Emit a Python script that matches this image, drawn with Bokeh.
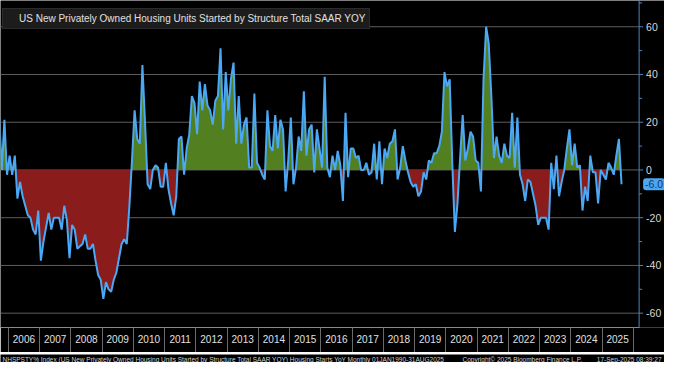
import numpy as np
import pandas as pd
from bokeh.plotting import figure
from bokeh.layouts import column
from bokeh.models import FixedTicker, Range1d, Legend, LegendItem, Span
from bokeh.core.properties import value
from bokeh.embed import file_html
from bokeh.resources import INLINE

# ---------------- data (monthly YoY %, Sep 2005 .. Aug 2025) ----------------
start_month = "2005-09"
yoy_2005 = [22, 0, 21, -2]
yoy_2006 = [6, -2, 6, -12, -5, -11, -15, -19, -20, -25, -27, -17]
yoy_2007 = [-38, -30, -24, -18, -25, -20, -20, -20, -25, -15, -21, -37]
yoy_2008 = [-23, -25, -33, -32, -31, -27, -33, -33, -31, -38, -44, -46]
yoy_2009 = [-54, -47, -50, -51, -46, -43, -37, -31, -29, -31, -15, 4]
yoy_2010 = [25, 13, 11, 44, 20, -6, -8, 0, 2, 1, -7, -7]
yoy_2011 = [3, -8, -14, -19, -11, 13, 14, -2, 9, 15, 31, 28]
yoy_2012 = [15, 37, 25, 36, 27, 25, 19, 29, 31, 51, 17, 41]
yoy_2013 = [25, 38, 45, 11, 31, 11, 19, 22, 1, 1, 32, 3]
yoy_2014 = [1, -2, -4, 25, 10, 8, 23, 9, 21, 17, -9, 4]
yoy_2015 = [22, -6, 1, 14, 8, 33, 6, 17, 19, -1, 17, 9]
yoy_2016 = [1, 39, 1, -3, 6, 0, 8, 2, -13, 24, -3, 9]
yoy_2017 = [9, 5, 6, 0, 0, 3, -2, -1, 11, -4, 12, -6]
yoy_2018 = [9, 5, 11, 12, 17, -4, 1, 10, 4, -1, -5, -7]
yoy_2019 = [-6, -11, -9, -1, -4, 4, 3, 7, 7, 10, 16, 41]
yoy_2020 = [35, 38, 3, -26, -14, 5, 23, 4, 9, 16, 14, 4]
yoy_2021 = [3, -9, 38, 60, 53, 31, 5, 14, 6, 3, 11, 6]
yoy_2022 = [5, 24, 1, 22, -2, -6, -13, -4, -5, -10, -15, -23]
yoy_2023 = [-20, -20, -20, -25, 3, -8, 6, -11, -5, 0, 9, 17]
yoy_2024 = [2, 11, 1, 2, -17, -7, -13, 6, -1, -1, -14, 0]
yoy_2025 = [-2, -4, 3, 1, -2, 6, 13, -6.0]

yoy = (yoy_2005 + yoy_2006 + yoy_2007 + yoy_2008 + yoy_2009 + yoy_2010 + yoy_2011
       + yoy_2012 + yoy_2013 + yoy_2014 + yoy_2015 + yoy_2016 + yoy_2017 + yoy_2018
       + yoy_2019 + yoy_2020 + yoy_2021 + yoy_2022 + yoy_2023 + yoy_2024 + yoy_2025)

years = list(range(2006, 2026))
year_labels = [str(y) for y in years]
y_ticks = [-60, -40, -20, 0, 20, 40, 60]
y_tick_labels = ["-60", "-40", "-20", "0", "20", "40", "60"]
y_minor = [-50, -30, -10, 10, 30, 50, 70]
last_value_label = "-6.0"
legend_label = "US New Privately Owned Housing Units Started by Structure Total SAAR YOY"
footer_left = ("NHSPSTY% Index (US New Privately Owned Housing Units Started by Structure "
               "Total SAAR YOY) Housing Starts YoY  Monthly 01JAN1990-31AUG2025")
footer_mid = "Copyright\u00a9 2025 Bloomberg Finance L.P."
footer_right = "17-Sep-2025 08:39:27"

# ---------------- styling ----------------
FONT = "Liberation Sans"
LINE = "#4aa8f5"
GREEN = "#527f1f"
RED = "#8b1c1c"
GRID = "#5e5e5e"
AXIS_BLUE = "#4f82c4"
TXT = "#e0e0e0"
X_START, X_END = 2005.75, 2027.0
AXIS_X = 2026.1875          # position of the value axis line (time units)

months = pd.period_range(start_month, periods=len(yoy), freq="M")
xv = (months.year + (months.month - 0.5) / 12.0).to_numpy(dtype=float)
yv = np.array(yoy, dtype=float)


def split_fill(xs, ys):
    fx, fy = [], []
    for i in range(len(ys)):
        if i > 0 and ys[i - 1] * ys[i] < 0:
            f = ys[i - 1] / (ys[i - 1] - ys[i])
            fx.append(xs[i - 1] + f * (xs[i] - xs[i - 1]))
            fy.append(0.0)
        fx.append(xs[i])
        fy.append(ys[i])
    return np.array(fx), np.array(fy)


fx, fy = split_fill(xv, yv)

p = figure(width=664, height=352,
           x_range=Range1d(X_START, X_END), y_range=Range1d(-66, 71),
           y_axis_location=None, output_backend="svg", toolbar_location=None,
           background_fill_color="black", border_fill_color="black",
           min_border_left=0, min_border_top=0, min_border_right=0, min_border_bottom=25)
p.outline_line_color = None
p.xgrid.visible = False
p.ygrid.visible = False

# horizontal grid lines up to the value axis
n = len(y_ticks)
p.segment(x0=[X_START] * n, y0=y_ticks, x1=[AXIS_X] * n, y1=y_ticks,
          line_color=GRID, line_width=1)

# fills and line
p.varea(x=fx, y1=0, y2=np.maximum(fy, 0), fill_color=GREEN, fill_alpha=1)
p.varea(x=fx, y1=0, y2=np.minimum(fy, 0), fill_color=RED, fill_alpha=1)
p.line(xv, yv, line_color=LINE, line_width=2)

# value axis on the right (drawn in the frame)
p.add_layout(Span(location=AXIS_X, dimension="height", line_color=AXIS_BLUE, line_width=1))
p.ray(x=[AXIS_X] * n, y=y_ticks, length=4, length_units="screen", angle=0,
      line_color=AXIS_BLUE, line_width=1)
p.ray(x=[AXIS_X] * len(y_minor), y=y_minor, length=3, length_units="screen", angle=0,
      line_color=AXIS_BLUE, line_width=1)
p.text(x=[AXIS_X] * n, y=y_ticks, text=y_tick_labels, x_offset=7,
       text_align="left", text_baseline="middle", text_font=value(FONT),
       text_font_size="10.5px", text_color="#d8d8d8")

# last value callout
p.text(x=[AXIS_X], y=[yoy[-1]], text=[last_value_label], x_offset=4,
       text_align="left", text_baseline="middle", text_font=value(FONT),
       text_font_size="10.5px", text_color="#12386e",
       background_fill_color="#4ea5f0", background_fill_alpha=1,
       padding=2, border_radius=3)

# bottom axis: labels mid-year, separators at year starts
xa = p.xaxis[0]
xa.bounds = (X_START, AXIS_X)
xa.ticker = FixedTicker(ticks=[y + 0.5 for y in years], minor_ticks=years + [years[-1] + 1])
xa.major_label_overrides = {y + 0.5: lab for y, lab in zip(years, year_labels)}
xa.major_tick_in = 0
xa.major_tick_out = 0
xa.minor_tick_in = 0
xa.minor_tick_out = 25
xa.minor_tick_line_color = "#6a6a6a"
xa.axis_line_color = "#8a8a8a"
xa.major_label_standoff = -18
xa.major_label_text_color = TXT
xa.major_label_text_font = FONT
xa.major_label_text_font_size = "10px"

# legend
dummy = p.scatter(x=[], y=[], marker="square", size=9, fill_color=LINE, line_color=LINE)
legend = Legend(items=[LegendItem(label=legend_label, renderers=[dummy])],
                location=(2, 298), background_fill_color="#1c1c1c", background_fill_alpha=1,
                border_line_color="#3a3a3a", label_text_color=TXT, label_text_font=FONT,
                label_text_font_size="10px", glyph_width=9, glyph_height=9,
                padding=4, margin=0, spacing=0, label_standoff=3)
p.add_layout(legend)

# footer strip
f = figure(width=664, height=10, x_range=Range1d(0, 664), y_range=Range1d(0, 10),
           x_axis_location=None, y_axis_location=None, output_backend="svg",
           toolbar_location=None, background_fill_color="black", border_fill_color="black",
           min_border_left=0, min_border_top=0, min_border_right=0, min_border_bottom=0)
f.outline_line_color = None
f.xgrid.visible = False
f.ygrid.visible = False
f.text(x=[2, 462], y=[5, 5], text=[footer_left, footer_mid], text_align="left",
       text_baseline="middle", text_font=value(FONT), text_font_size="6.5px",
       text_color="#d0d0d0")
f.text(x=[661], y=[5], text=[footer_right], text_align="right",
       text_baseline="middle", text_font=value(FONT), text_font_size="6.5px",
       text_color="#d0d0d0")

layout = column(p, f, spacing=0)
open("out.html", "w").write(file_html(layout, INLINE))
